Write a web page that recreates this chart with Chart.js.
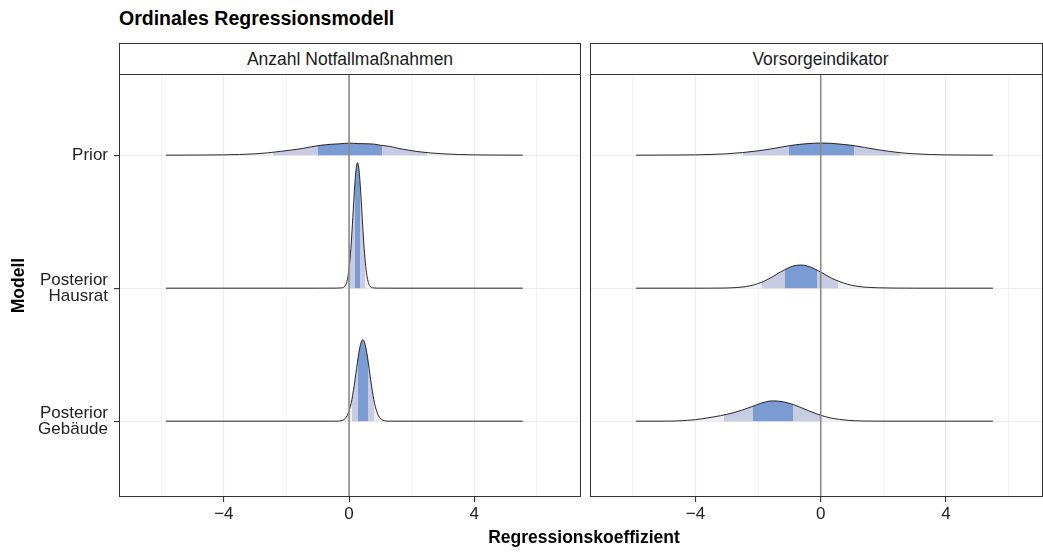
<!DOCTYPE html>
<html><head><meta charset="utf-8">
<script src="https://cdn.jsdelivr.net/npm/chart.js@4.4.1/dist/chart.umd.min.js"></script>
<style>
html,body{margin:0;padding:0;background:#fff;}
#wrap{position:relative;width:1043px;height:554px;overflow:hidden;font-family:"Liberation Sans",Arial,Helvetica,sans-serif;color:#000;background:#fff;}
#title{position:absolute;left:119px;top:6px;font-size:19.5px;font-weight:bold;line-height:24px;white-space:nowrap;}
.strip{position:absolute;top:43px;height:32px;box-sizing:border-box;border:1px solid #333;background:#fff;display:flex;align-items:center;justify-content:center;font-size:17.5px;color:#1a1a1a;white-space:nowrap;}
canvas{position:absolute;}
#xtitle{position:absolute;left:384px;width:400px;text-align:center;top:527px;font-size:17.5px;font-weight:bold;line-height:21px;}
</style></head>
<body>
<div id="wrap">
  <div id="title">Ordinales Regressionsmodell</div>
  <div class="strip" id="stripA" style="left:119px;width:462px;"></div>
  <div class="strip" id="stripB" style="left:590px;width:453px;padding-left:8px;"></div>
  <canvas id="cA" width="581" height="480" style="left:0;top:74px;"></canvas>
  <canvas id="cB" width="453" height="480" style="left:590px;top:74px;"></canvas>
  <div id="xtitle">Regressionskoeffizient</div>
</div>
<script>
// ---------- data ----------
const categories = ['Prior', 'Posterior\nHausrat', 'Posterior\nGebäude'];
const facets = ['Anzahl Notfallmaßnahmen', 'Vorsorgeindikator'];
const xMajorTicks = [-4, 0, 4];
const xTickLabels = ['\u22124', '0', '4'];
const xMinorTicks = [-6, -2, 2, 6];

// Facet 1: Anzahl Notfallmaßnahmen – density curves (x, density)
const notfallPriorX = [-5.85,-5.2,-4.6,-4.0,-3.5,-3.0,-2.6,-2.2,-1.8,-1.5,-1.2,-0.9,-0.6,-0.3,0.0,0.3,0.6,0.8,1.0,1.3,1.6,1.9,2.2,2.6,3.0,3.5,4.0,4.6,5.55];
const notfallPriorD = [0,0.001,0.003,0.007,0.014,0.030,0.052,0.085,0.120,0.150,0.190,0.225,0.245,0.258,0.272,0.262,0.258,0.250,0.225,0.198,0.150,0.112,0.080,0.050,0.030,0.014,0.006,0.002,0];
const notfallHausratX = [-5.85,-1.0,-0.4,-0.25,-0.18,-0.13,-0.08,-0.03,0.02,0.07,0.12,0.17,0.22,0.27,0.32,0.37,0.42,0.47,0.52,0.57,0.62,0.67,0.72,0.79,0.95,1.5,5.55];
const notfallHausratD = [0,0,0.001,0.006,0.016,0.048,0.125,0.287,0.579,1.027,1.605,2.208,2.674,2.850,2.674,2.208,1.605,1.027,0.579,0.287,0.125,0.048,0.016,0.006,0.001,0,0];
const notfallGebaeudeX = [-5.85,-0.6,-0.41,-0.26,-0.16,-0.06,0.04,0.09,0.14,0.19,0.24,0.29,0.34,0.39,0.44,0.49,0.54,0.59,0.64,0.69,0.74,0.79,0.84,0.94,1.04,1.14,1.29,1.6,5.55];
const notfallGebaeudeD = [0,0,0.001,0.009,0.038,0.124,0.33,0.49,0.70,0.94,1.20,1.45,1.66,1.80,1.85,1.80,1.66,1.45,1.20,0.94,0.70,0.49,0.33,0.124,0.038,0.009,0.001,0,0];

// Facet 2: Vorsorgeindikator – density curves (x, density)
const vorsorgePriorX = [-5.9,-5.2,-4.6,-4.0,-3.5,-3.0,-2.5,-2.0,-1.6,-1.2,-0.8,-0.4,0.0,0.3,0.6,1.0,1.4,1.8,2.2,2.6,3.0,3.5,4.0,4.6,5.5];
const vorsorgePriorD = [0,0.001,0.003,0.007,0.015,0.031,0.058,0.098,0.140,0.190,0.235,0.262,0.275,0.270,0.252,0.222,0.175,0.125,0.085,0.050,0.030,0.014,0.006,0.002,0];
const vorsorgeHausratX = [-5.9,-3.65,-3.15,-2.65,-2.40,-2.15,-1.90,-1.65,-1.40,-1.15,-0.90,-0.65,-0.40,-0.15,0.10,0.35,0.60,0.85,1.10,1.35,1.85,2.35,3.0,5.5];
const vorsorgeHausratD = [0,0,0.002,0.015,0.035,0.072,0.131,0.215,0.32,0.42,0.50,0.525,0.50,0.42,0.325,0.225,0.150,0.090,0.050,0.027,0.008,0.002,0,0];
const vorsorgeGebaeudeX = [-5.9,-5.0,-4.5,-4.0,-3.6,-3.2,-2.8,-2.5,-2.2,-1.9,-1.65,-1.5,-1.3,-1.0,-0.7,-0.4,-0.1,0.0,0.3,0.6,0.9,1.3,1.8,2.5,5.5];
const vorsorgeGebaeudeD = [0,0.001,0.008,0.035,0.075,0.125,0.19,0.255,0.33,0.41,0.455,0.46,0.45,0.405,0.33,0.24,0.16,0.135,0.075,0.04,0.017,0.005,0.001,0,0];

// Interval bounds (90 % and 50 %) per category: Prior, Hausrat, Gebäude
const notfallLo90 = [-2.43, 0.04, 0.08];
const notfallLo50 = [-0.99, 0.18, 0.28];
const notfallHi50 = [1.05, 0.36, 0.60];
const notfallHi90 = [2.49, 0.50, 0.79];
const vorsorgeLo90 = [-2.49, -1.87, -3.08];
const vorsorgeLo50 = [-1.00, -1.14, -2.15];
const vorsorgeHi50 = [1.06, -0.11, -0.87];
const vorsorgeHi90 = [2.53, 0.56, 0.00];

// ---------- styling ----------
const FONT = '"Liberation Sans", Arial, Helvetica, sans-serif';
const TAIL = 'rgb(238,238,243)';
const LAV = 'rgb(200,204,226)';
const BLUE = 'rgb(123,156,211)';
const GRID = '#ebebeb';
const Y_MIN = 0.43, Y_MAX = 3.61;
const RIDGE_SCALE = 0.331;

Chart.defaults.font.family = FONT;

document.getElementById('stripA').textContent = facets[0];
document.getElementById('stripB').textContent = facets[1];

function makeFill(lo90, lo50, hi50, hi90) {
  return (ctx) => {
    const chart = ctx.chart;
    const area = chart.chartArea;
    if (!area || !chart.scales.x) return TAIL;
    const xs = chart.scales.x;
    const f = v => Math.min(1, Math.max(0, (xs.getPixelForValue(v) - area.left) / (area.right - area.left)));
    const g = chart.ctx.createLinearGradient(area.left, 0, area.right, 0);
    g.addColorStop(0, TAIL);
    g.addColorStop(f(lo90), TAIL); g.addColorStop(f(lo90), LAV);
    g.addColorStop(f(lo50), LAV); g.addColorStop(f(lo50), BLUE);
    g.addColorStop(f(hi50), BLUE); g.addColorStop(f(hi50), LAV);
    g.addColorStop(f(hi90), LAV); g.addColorStop(f(hi90), TAIL);
    g.addColorStop(1, TAIL);
    return g;
  };
}

function ridgeDatasets(xsList, dsList, lo90, lo50, hi50, hi90) {
  const out = [];
  xsList.forEach((xs, i) => {
    const base = categories.length - i;
    out.push({
      data: xs.map((x, k) => ({ x: x, y: base + dsList[i][k] * RIDGE_SCALE })),
      fill: { value: base },
      backgroundColor: makeFill(lo90[i], lo50[i], hi50[i], hi90[i]),
      borderColor: '#111',
      borderWidth: 0.9,
      pointRadius: 0,
      cubicInterpolationMode: 'monotone',
      order: 10 - i
    });
  });
  out.push({
    data: [{ x: 0, y: Y_MIN }, { x: 0, y: Y_MAX }],
    borderColor: '#8a8a8a',
    borderWidth: 1.6,
    pointRadius: 0,
    fill: false,
    order: 0
  });
  return out;
}

const borderPlugin = {
  id: 'panelBorder',
  afterDraw(chart) {
    const a = chart.chartArea, c = chart.ctx;
    c.save();
    c.strokeStyle = '#333';
    c.lineWidth = 1;
    c.strokeRect(a.left + 0.5, a.top + 0.5, a.right - a.left - 1, a.bottom - a.top - 1);
    c.restore();
  }
};

function noPad(s) { s.paddingLeft = 0; s.paddingRight = 0; s.paddingTop = 0; s.paddingBottom = 0; }

function xScale(min, max) {
  return {
    type: 'linear', min: min, max: max,
    afterBuildTicks: s => { s.ticks = xMinorTicks.concat(xMajorTicks).sort((a, b) => a - b).map(v => ({ value: v })); },
    afterFit: s => { s.height = 57; noPad(s); },
    ticks: {
      autoSkip: false, maxRotation: 0, padding: 2,
      font: { size: 17 }, color: '#222',
      callback: v => { const i = xMajorTicks.indexOf(v); return i >= 0 ? xTickLabels[i] : ''; }
    },
    grid: {
      color: GRID,
      lineWidth: c => (c.tick && xMajorTicks.includes(c.tick.value)) ? 1.1 : 0.6,
      tickColor: c => (c.tick && xMajorTicks.includes(c.tick.value)) ? '#333' : 'rgba(0,0,0,0)',
      tickLength: 5
    },
    border: { display: false }
  };
}

function yScale(showLabels) {
  return {
    type: 'linear', min: Y_MIN, max: Y_MAX,
    afterBuildTicks: s => { s.ticks = categories.map((c, i) => ({ value: categories.length - i })); },
    afterFit: s => { s.width = showLabels ? 119 : 0; noPad(s); },
    ticks: {
      display: showLabels,
      padding: 6,
      font: { size: 17, lineHeight: 0.95 }, color: '#222',
      callback: v => { const i = categories.length - v; return categories[i] ? categories[i].split('\n') : ''; }
    },
    grid: { color: GRID, lineWidth: 1.1, tickColor: '#333', tickLength: 5, drawTicks: showLabels },
    border: { display: false },
    title: {
      display: showLabels, text: 'Modell', color: '#000',
      font: { size: 17.5, weight: 'bold' }, padding: { top: 9, bottom: 0 }
    }
  };
}

function makeChart(id, datasets, xmin, xmax, showY) {
  return new Chart(document.getElementById(id), {
    type: 'line',
    data: { datasets: datasets },
    options: {
      responsive: false, animation: false, devicePixelRatio: 1, events: [],
      layout: { padding: 0 },
      plugins: { legend: { display: false }, tooltip: { enabled: false } },
      scales: { x: xScale(xmin, xmax), y: yScale(showY) }
    },
    plugins: [borderPlugin]
  });
}

makeChart('cA', ridgeDatasets(
  [notfallPriorX, notfallHausratX, notfallGebaeudeX],
  [notfallPriorD, notfallHausratD, notfallGebaeudeD],
  notfallLo90, notfallLo50, notfallHi50, notfallHi90), -7.35, 7.41, true);

makeChart('cB', ridgeDatasets(
  [vorsorgePriorX, vorsorgeHausratX, vorsorgeGebaeudeX],
  [vorsorgePriorD, vorsorgeHausratD, vorsorgeGebaeudeD],
  vorsorgeLo90, vorsorgeLo50, vorsorgeHi50, vorsorgeHi90), -7.37, 7.10, false);
</script>
</body></html>
